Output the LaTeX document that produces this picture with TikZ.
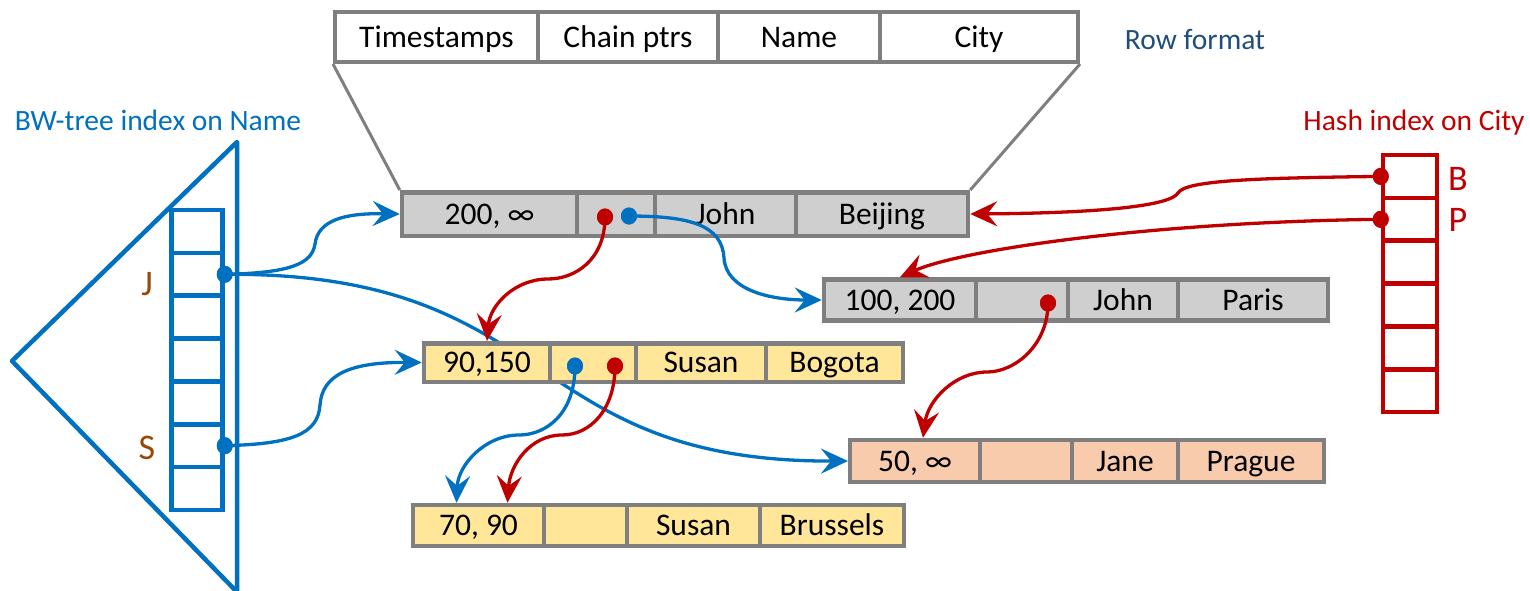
\documentclass[tikz,border=0pt]{standalone}
\usepackage{fontspec}
\setmainfont{Carlito}
\usetikzlibrary{arrows.meta,shapes.geometric}
\definecolor{cblue}{HTML}{0070C0}
\definecolor{cred}{HTML}{C00000}
\definecolor{rowline}{HTML}{7F7F7F}
\definecolor{rowgray}{HTML}{CFCFCF}
\definecolor{rowyellow}{HTML}{FFE699}
\definecolor{roworange}{HTML}{F8CBAD}
\definecolor{keybrown}{HTML}{984807}
\definecolor{fmtblue}{HTML}{1F4E79}
\newcommand\rowtxt{\fontsize{31.5}{36}\selectfont}
\newcommand\labtxt{\fontsize{29.5}{34}\selectfont}
\newcommand\keytxt{\fontsize{36}{40}\selectfont}
\begin{document}
\begin{tikzpicture}[x=1pt,y=-1pt,
  cell/.style={draw=rowline, line width=4.5pt, inner sep=0pt,
    text height=20pt, text depth=0pt, font=\rowtxt},
  hcell/.style={cell, fill=white, line width=4pt, minimum height=50pt},
  g1/.style={cell, fill=rowgray, minimum height=43.5pt},
  g2/.style={cell, fill=rowgray, minimum height=41pt},
  y3/.style={cell, fill=rowyellow, minimum height=38.5pt},
  o4/.style={cell, fill=roworange, minimum height=42pt},
  y5/.style={cell, fill=rowyellow, minimum height=41pt},
  tcell/.style={draw=cblue, line width=4.5pt, inner sep=0pt,
    minimum width=51pt, minimum height=42.86pt},
  hashcell/.style={draw=cred, line width=4.5pt, inner sep=0pt,
    minimum width=54pt, minimum height=42.8pt},
  dot/.style={ellipse, inner sep=0pt, minimum width=16pt, minimum height=17pt},
  bconn/.style={line width=3.3pt, draw=cblue,
    -{Stealth[length=27pt,width=25pt,inset=10pt,fill=cblue]}},
  rconn/.style={line width=3.3pt, draw=cred,
    -{Stealth[length=27pt,width=25pt,inset=10pt,fill=cred]}},
]
\useasboundingbox (0,0) rectangle (1530,590);

% ---- labels
\node[anchor=base, font=\labtxt, text=cblue] (bwlabel) at (158,130) {BW-tree index on Name};
\node[anchor=base, font=\labtxt, text=cred] (hashlabel) at (1414,130) {Hash index on City};
\node[anchor=base, font=\labtxt, text=fmtblue] (fmtlabel) at (1195,49) {Row format};

% ---- BW-tree
\draw[cblue, line width=4.5pt, line join=round] (237,142) -- (12,361) -- (237,592) -- cycle;
\foreach \i/\yy in {1/231.4,2/274.3,3/317.1,4/360,5/402.9,6/445.7,7/488.6}
  \node[tcell] (t\i) at (197,\yy) {};
\node[anchor=base, font=\keytxt, text=keybrown] (kJ) at (147,295) {J};
\node[anchor=base, font=\keytxt, text=keybrown] (kS) at (147,459) {S};

% ---- hash index
\foreach \i/\yy in {1/176.4,2/219.3,3/262.1,4/305,5/347.9,6/390.7}
  \node[hashcell] (h\i) at (1410,\yy) {};
\node[anchor=base, font=\keytxt, text=cred] (kB) at (1458,190) {B};
\node[anchor=base, font=\keytxt, text=cred] (kP) at (1458,231) {P};

% ---- row format header
\node[hcell, minimum width=203pt] (ha) at (436.5,37) {Timestamps};
\node[hcell, minimum width=180pt] (hb) at (628,37) {Chain ptrs};
\node[hcell, minimum width=162pt] (hc) at (799,37) {Name};
\node[hcell, minimum width=198pt] (hd) at (979,37) {City};

% ---- dots on index entries
\node[dot, fill=cblue] (dJ) at (t2.east) {};
\node[dot, fill=cblue] (dS) at (t6.east) {};
\node[dot, fill=cred] (dB) at (h1.west) {};
\node[dot, fill=cred] (dP) at (h2.west) {};

% ---- long scan pointer that passes under the Susan/Bogota row
\draw[bconn] (dJ.center) .. controls (560,272) and (520,462) .. (848,461);

% ---- rows
\node[g1, minimum width=175pt] (r1a) at (489.5,214) {200, ∞};
\node[g1, minimum width=78pt]  (r1b) at (616,214) {};
\node[g1, minimum width=141pt] (r1c) at (725.5,214) {John};
\node[g1, minimum width=172pt] (r1d) at (882,214) {Beijing};

\node[g2, minimum width=152pt] (r2a) at (900,300) {100, 200};
\node[g2, minimum width=92pt]  (r2b) at (1022,300) {};
\node[g2, minimum width=110pt] (r2c) at (1123,300) {John};
\node[g2, minimum width=150pt] (r2d) at (1253,300) {Paris};

\node[y3, minimum width=126pt] (r3a) at (487,362.5) {90,150};
\node[y3, minimum width=86pt]  (r3b) at (593,362.5) {};
\node[y3, minimum width=130pt] (r3c) at (701,362.5) {Susan};
\node[y3, minimum width=137pt] (r3d) at (834.5,362.5) {Bogota};

\node[o4, minimum width=130pt] (r4a) at (915,461) {50, ∞};
\node[o4, minimum width=92pt]  (r4b) at (1026,461) {};
\node[o4, minimum width=106pt] (r4c) at (1125,461) {Jane};
\node[o4, minimum width=146pt] (r4d) at (1251,461) {Prague};

\node[y5, minimum width=131pt] (r5a) at (478.5,525.5) {70, 90};
\node[y5, minimum width=83pt]  (r5b) at (585.5,525.5) {};
\node[y5, minimum width=133pt] (r5c) at (693.5,525.5) {Susan};
\node[y5, minimum width=144pt] (r5d) at (832,525.5) {Brussels};

% ---- expansion lines from the header to the first row
\draw[rowline, line width=3pt] (ha.south west) -- (r1a.north west);
\draw[rowline, line width=3pt] (hd.south east) -- (r1d.north east);

% ---- chain pointer dots
\node[dot, fill=cred]  (p1r) at (605,217) {};
\node[dot, fill=cblue] (p1b) at (629,216) {};
\node[dot, fill=cred]  (p2r) at (1048,303) {};
\node[dot, fill=cblue] (p3b) at (575,366) {};
\node[dot, fill=cred]  (p3r) at (615,366) {};

\coordinate (r4tip) at ([xshift=8pt]r4a.north);
\coordinate (r5tipb) at ([xshift=-22pt]r5a.north);
\coordinate (r5tipr) at ([xshift=29pt]r5a.north);

% ---- BW-tree pointers
\draw[bconn] (dJ.center) .. controls (290,273) and (312,264) .. (315,244)
  .. controls (318,220) and (345,213) .. (r1a.west);
\draw[bconn] (dS.center) .. controls (290,444) and (318,435) .. (320,405)
  .. controls (322,375) and (350,362) .. (r3a.west);
\draw[bconn] (p1b.center) .. controls (690,216) and (722,225) .. (724,258)
  .. controls (726,290) and (770,300) .. (r2a.west);
\draw[bconn] (p3b.center) .. controls (575,415) and (545,435) .. (519,435)
  .. controls (485,435) and (458,465) .. (r5tipb);

% ---- hash chain pointers
\draw[rconn] (dB.center) .. controls (1260,178) and (1185,180) .. (1178,193)
  .. controls (1170,206) and (1100,213) .. (r1d.east);
\draw[rconn] (dP.center) .. controls (1150,222) and (960,250) .. (r2a.north);
\draw[rconn] (p1r.center) .. controls (605,260) and (575,279) .. (548,279)
  .. controls (515,279) and (490,305) .. (r3a.north);
\draw[rconn] (p2r.center) .. controls (1048,345) and (1015,372) .. (987,372)
  .. controls (955,372) and (928,400) .. (r4tip);
\draw[rconn] (p3r.center) .. controls (615,410) and (590,435) .. (562,435)
  .. controls (530,435) and (510,465) .. (r5tipr);

% ---- dots redrawn on top of their lines
\foreach \n/\c in {dJ/cblue,dS/cblue,dB/cred,dP/cred,p1r/cred,p1b/cblue,p2r/cred,p3b/cblue,p3r/cred}
  \fill[\c] (\n.center) ellipse [x radius=8pt, y radius=8.5pt];
\end{tikzpicture}
\end{document}
